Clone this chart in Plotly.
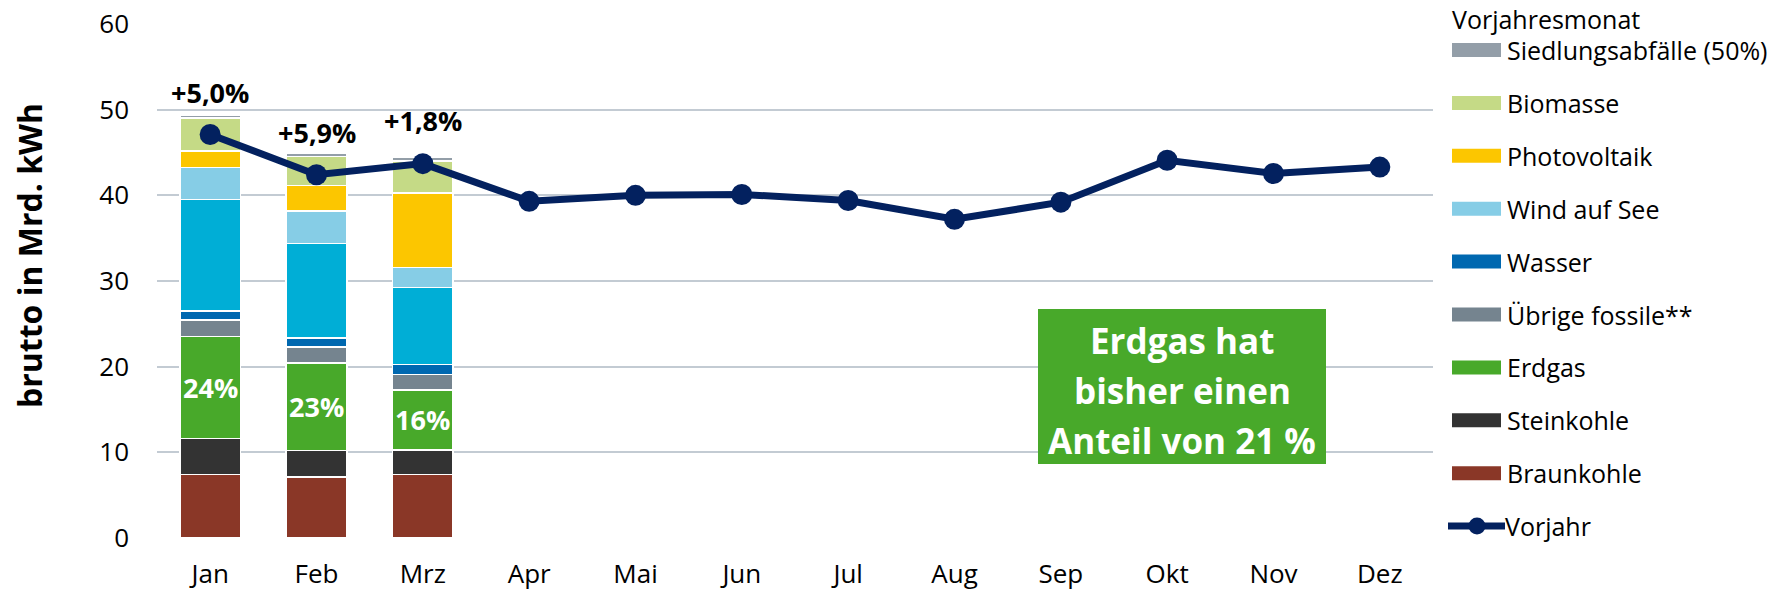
import plotly.graph_objects as go

# ---------------- data ----------------
months = ["Jan", "Feb", "Mrz", "Apr", "Mai", "Jun", "Jul", "Aug", "Sep", "Okt", "Nov", "Dez"]
bar_months = ["Jan", "Feb", "Mrz"]

braunkohle = [7.4, 7.1, 7.4]
steinkohle = [4.2, 3.1, 2.9]
erdgas = [11.9, 10.2, 7.0]
uebrige_fossile = [1.95, 1.9, 1.8]
wasser = [1.05, 1.05, 1.15]
wind_land = [13.0, 11.0, 9.0]
wind_see = [3.75, 3.8, 2.35]
photovoltaik = [1.95, 3.0, 8.7]
biomasse = [3.85, 3.4, 3.7]
siedlung = [0.35, 0.35, 0.4]

vorjahr = [47.1, 42.4, 43.7, 39.3, 40.0, 40.1, 39.4, 37.2, 39.2, 44.1, 42.55, 43.3]

change_labels = ["+5,0%", "+5,9%", "+1,8%"]
change_label_offset = [2.6, 2.45, 4.3]

box_lines = ["Erdgas hat", "bisher einen", "Anteil von 21 %"]

# stack order bottom -> top: (name, values, colour, in legend)
series = [
    ("Braunkohle", braunkohle, "#8A3727", True),
    ("Steinkohle", steinkohle, "#333333", True),
    ("Erdgas", erdgas, "#48A92A", True),
    ("Übrige fossile**", uebrige_fossile, "#75848F", True),
    ("Wasser", wasser, "#0068B0", True),
    ("Wind an Land", wind_land, "#00AED6", False),
    ("Wind auf See", wind_see, "#86CDE6", True),
    ("Photovoltaik", photovoltaik, "#FCC600", True),
    ("Biomasse", biomasse, "#C5DA86", True),
    ("Siedlungsabfälle (50%)", siedlung, "#939EA8", True),
]
line_color = "#03215F"
grid_color = "#C3CBD3"
FONT = "Open Sans"

# ---------------- geometry (pixels) ----------------
W, H = 1777, 594
L, R, T, B = 157, 344, 24, 56
PW, PH = W - L - R, H - T - B


def px(x):
    return (x - L) / PW


def py(y):
    return (H - B - y) / PH


fig = go.Figure()

for name, vals, col, _ in series:
    fig.add_trace(go.Bar(
        x=bar_months, y=vals, name=name,
        marker=dict(color=col, line=dict(color="white", width=1.5)),
        width=0.57, showlegend=False, hoverinfo="x+y+name",
    ))

fig.add_trace(go.Scatter(
    x=months, y=vorjahr, name="Vorjahr", mode="lines+markers",
    line=dict(color=line_color, width=7),
    marker=dict(color=line_color, size=21),
    showlegend=False,
))

annotations = []
shapes = []

# totals and change labels
totals = [sum(s[1][i] for s in series) for i in range(len(bar_months))]
for i, m in enumerate(bar_months):
    annotations.append(dict(
        x=m, y=totals[i] + change_label_offset[i], xref="x", yref="y",
        text=f"<b>{change_labels[i]}</b>", showarrow=False,
        font=dict(family=FONT, size=27, color="black"),
        xanchor="center", yanchor="middle",
    ))
    # Erdgas share label, centred inside the Erdgas segment
    base = braunkohle[i] + steinkohle[i]
    share = round(100 * erdgas[i] / totals[i])
    annotations.append(dict(
        x=m, y=base + erdgas[i] / 2, xref="x", yref="y",
        text=f"<b>{share}%</b>", showarrow=False,
        font=dict(family=FONT, size=27, color="white"),
        xanchor="center", yanchor="middle",
    ))

# green info box
shapes.append(dict(type="rect", xref="paper", yref="paper",
                   x0=px(1038), x1=px(1326), y0=py(464), y1=py(309),
                   fillcolor="#48A92A", line=dict(width=0), layer="above"))
for k, t in enumerate(box_lines):
    annotations.append(dict(
        x=px(1182), y=py(340 + 50 * k), xref="paper", yref="paper",
        text=f"<b>{t}</b>", showarrow=False, xanchor="center", yanchor="middle",
        font=dict(family=FONT, size=35, color="white"),
    ))

# y-axis title
annotations.append(dict(
    x=px(29.5), y=py(255.5), xref="paper", yref="paper",
    text="<b>brutto in Mrd. kWh</b>", showarrow=False, textangle=-90,
    font=dict(family=FONT, size=32, color="black"),
    xanchor="center", yanchor="middle",
))

# manual legend
LEG = 25
annotations.append(dict(
    x=px(1450), y=py(0), xref="paper", yref="paper", text="Vorjahresmonat",
    showarrow=False, xanchor="left", yanchor="top",
    font=dict(family=FONT, size=LEG, color="black"),
))
legend_items = [s for s in reversed(series) if s[3]]
for k, (name, _, col, _) in enumerate(legend_items):
    yc = 50 + 52.9 * k
    shapes.append(dict(type="rect", xref="paper", yref="paper",
                       x0=px(1452), x1=px(1501), y0=py(yc + 7), y1=py(yc - 7),
                       fillcolor=col, line=dict(width=0)))
    annotations.append(dict(
        x=px(1505), y=py(yc), xref="paper", yref="paper", text=name,
        showarrow=False, xanchor="left", yanchor="middle",
        font=dict(family=FONT, size=LEG, color="black"),
    ))
yc = 50 + 52.9 * len(legend_items)
shapes.append(dict(type="line", xref="paper", yref="paper",
                   x0=px(1448), x1=px(1505), y0=py(yc), y1=py(yc),
                   line=dict(color=line_color, width=7)))
shapes.append(dict(type="circle", xref="paper", yref="paper",
                   x0=px(1477 - 8.5), x1=px(1477 + 8.5), y0=py(yc + 8.5), y1=py(yc - 8.5),
                   fillcolor=line_color, line=dict(width=0)))
annotations.append(dict(
    x=px(1503), y=py(yc), xref="paper", yref="paper", text="Vorjahr",
    showarrow=False, xanchor="left", yanchor="middle",
    font=dict(family=FONT, size=LEG, color="black"),
))

fig.update_layout(
    width=W, height=H, barmode="stack",
    margin=dict(l=L, r=R, t=T, b=B, autoexpand=False),
    plot_bgcolor="white", paper_bgcolor="white",
    font=dict(family=FONT, size=26, color="black"),
    showlegend=False,
    annotations=annotations, shapes=shapes,
    xaxis=dict(categoryorder="array", categoryarray=months, range=[-0.5, 11.5],
               showgrid=False, showline=False, ticks="", ticklabelstandoff=18,
               automargin=False, tickfont=dict(family=FONT, size=26)),
    yaxis=dict(range=[0, 60], dtick=10, showgrid=True, gridcolor=grid_color,
               gridwidth=2, zeroline=False, showline=False, ticks="",
               automargin=False, ticklabelstandoff=27,
               tickfont=dict(family=FONT, size=26)),
)

fig.write_html(
    "out.html",
    config={"displayModeBar": False},
    post_script="document.body.style.margin='0';document.body.style.overflow='hidden';",
)
